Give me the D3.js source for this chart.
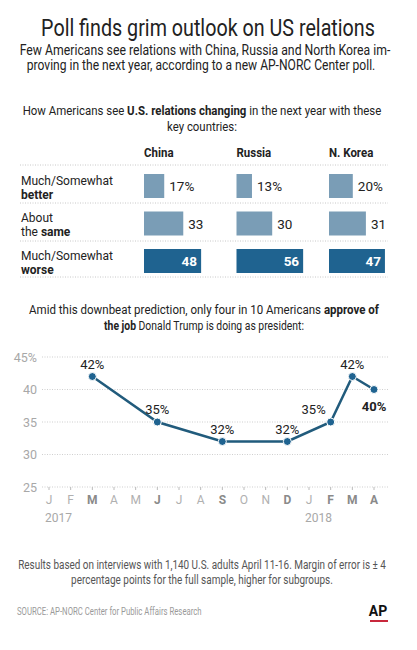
<!DOCTYPE html>
<html>
<head>
<meta charset="utf-8">
<script src="https://cdn.jsdelivr.net/npm/d3@7"></script>
<style>
  body { margin: 0; background: #fff; }
  svg { display: block; font-family: "Roboto", "Liberation Sans", sans-serif; }
</style>
</head>
<body>
<svg width="417" height="650"></svg>
<script>
// bar section data
const countries = ["China", "Russia", "N. Korea"];
const outlooks = ["better", "same", "worse"];
const chinaValues = [17, 33, 48];
const russiaValues = [13, 30, 56];
const nkoreaValues = [20, 31, 47];

// approval line data
const monthKeys = ["2017-01", "2017-02", "2017-03", "2017-04", "2017-05", "2017-06", "2017-07", "2017-08",
  "2017-09", "2017-10", "2017-11", "2017-12", "2018-01", "2018-02", "2018-03", "2018-04"];
const monthLabels = ["J", "F", "M", "A", "M", "J", "J", "A", "S", "O", "N", "D", "J", "F", "M", "A"];
const yearLabels = [["2017-01", "2017"], ["2018-01", "2018"]];
const approvalMonths = ["2017-03", "2017-06", "2017-09", "2017-12", "2018-02", "2018-03", "2018-04"];
const approvalValues = [42, 35, 32, 32, 35, 42, 40];
const yTicks = [25, 30, 35, 40, 45];

const svg = d3.select("svg");
const dark = "#1f6390", light = "#7a9db6", lineCol = "#215b7c";

// text line squeezed horizontally to a target width (fonts here are wider than the original condensed face)
function line(txt, x, y, size, opts = {}) {
  const g = svg.append("g");
  const t = g.append("text")
    .attr("font-size", size)
    .attr("fill", opts.fill || "#222")
    .attr("text-anchor", opts.anchor || "middle");
  if (opts.weight) t.attr("font-weight", opts.weight);
  if (Array.isArray(txt)) {
    txt.forEach(([s, b]) => t.append("tspan").attr("font-weight", b ? "bold" : null).text(s));
  } else t.text(txt);
  let s = 1;
  if (opts.len) s = opts.len / t.node().getComputedTextLength();
  g.attr("transform", `translate(${x},${y}) scale(${s},1)`);
  return t;
}

// Title block
line("Poll finds grim outlook on US relations", 208, 36, 24, { len: 334 });
line("Few Americans see relations with China, Russia and North Korea im-", 205, 55, 14, { len: 371 });
line("proving in the next year, according to a new AP-NORC Center poll.", 201, 70, 14, { len: 349 });

line([["How Americans see "], ["U.S. relations changing", true], [" in the next year with these"]], 202, 115, 13.5, { len: 359 });
line("key countries:", 202, 131, 13.5, { len: 70 });

// Bars
const colX = d3.scalePoint().domain(countries).range([144, 329]);
const rowY = d3.scalePoint().domain(outlooks).range([174, 249]);
const barW = d3.scaleLinear().domain([0, 100]).range([0, 119]);
const barH = 24;

const rows = [
  { key: "better", l1: [["Much/Somewhat"]], l2: [["better", true]] },
  { key: "same", l1: [["About"]], l2: [["the "], ["same", true]] },
  { key: "worse", l1: [["Much/Somewhat"]], l2: [["worse", true]] },
];

const gBars = svg.append("g");

// dotted separators
[165, 203, 241, 277].forEach((y) => {
  gBars.append("line")
    .attr("x1", 20).attr("x2", 388).attr("y1", y).attr("y2", y)
    .attr("stroke", "#c8c8c8").attr("stroke-width", 1).attr("stroke-dasharray", "1,1.5");
});

countries.forEach((c) => {
  gBars.append("text")
    .attr("transform", `translate(${colX(c)},157) scale(0.85,1)`)
    .attr("font-size", 13.5).attr("font-weight", "bold").attr("fill", "#222")
    .text(c);
});

rows.forEach((r) => {
  const y = rowY(r.key);
  const t1 = gBars.append("text").attr("x", 21).attr("y", y + 10.5).attr("font-size", 12).attr("fill", "#222");
  r.l1.forEach(([s, b]) => t1.append("tspan").attr("font-weight", b ? "bold" : null).text(s));
  const t2 = gBars.append("text").attr("x", 21).attr("y", y + 24.5).attr("font-size", 12).attr("fill", "#222");
  r.l2.forEach(([s, b]) => t2.append("tspan").attr("font-weight", b ? "bold" : null).text(s));
});

const barData = [];
[chinaValues, russiaValues, nkoreaValues].forEach((vals, ci) => {
  vals.forEach((v, ri) => barData.push({ country: countries[ci], outlook: outlooks[ri], value: v }));
});

gBars.selectAll("rect.bar")
  .data(barData)
  .enter()
  .append("rect")
  .attr("class", "bar")
  .attr("x", (d) => colX(d.country))
  .attr("y", (d) => rowY(d.outlook))
  .attr("width", (d) => barW(d.value))
  .attr("height", barH)
  .attr("fill", (d) => (d.outlook === "worse" ? dark : light));

gBars.selectAll("text.val")
  .data(barData)
  .enter()
  .append("text")
  .attr("class", "val")
  .attr("x", (d) => colX(d.country) + barW(d.value) + (d.outlook === "worse" ? -4 : 5))
  .attr("y", (d) => rowY(d.outlook) + barH / 2 + 5)
  .attr("text-anchor", (d) => (d.outlook === "worse" ? "end" : "start"))
  .attr("font-size", 13.5)
  .attr("font-weight", (d) => (d.outlook === "worse" ? "bold" : null))
  .attr("fill", (d) => (d.outlook === "worse" ? "#fff" : "#222"))
  .text((d) => d.value + (d.outlook === "better" ? "%" : ""));

// Line chart
line([["Amid this downbeat prediction, only four in 10 Americans "], ["approve of", true]], 204, 314, 13.5, { len: 350 });
line([["the job", true], [" Donald Trump is doing as president:"]], 204, 329.5, 13.5, { len: 200 });

const x = d3.scalePoint().domain(monthKeys).range([49, 374]);
const y = d3.scaleLinear().domain([25, 45]).range([487, 357]);

const gLine = svg.append("g");

yTicks.forEach((t) => {
  gLine.append("line")
    .attr("x1", 42).attr("x2", 388).attr("y1", y(t)).attr("y2", y(t))
    .attr("stroke", "#cfcfcf").attr("stroke-width", 1).attr("stroke-dasharray", "1,1.5");
  gLine.append("text")
    .attr("x", 37).attr("y", y(t) + 4.5)
    .attr("text-anchor", "end").attr("font-size", 12.5).attr("fill", "#a8a8a8")
    .text(t === 45 ? "45%" : t);
});

// month ticks + labels
monthKeys.forEach((k, i) => {
  const isData = approvalMonths.includes(k);
  gLine.append("line")
    .attr("x1", x(k)).attr("x2", x(k)).attr("y1", y(25)).attr("y2", y(25) + 3)
    .attr("stroke", "#bbb").attr("stroke-width", 1);
  gLine.append("text")
    .attr("x", x(k)).attr("y", 504)
    .attr("text-anchor", "middle").attr("font-size", 12)
    .attr("font-weight", isData ? "bold" : null)
    .attr("fill", isData ? "#8a8a8a" : "#b0b0b0")
    .text(monthLabels[i]);
});

yearLabels.forEach(([k, lbl]) => {
  gLine.append("text")
    .attr("x", x(k) - 4).attr("y", 522)
    .attr("font-size", 12).attr("fill", "#a8a8a8")
    .text(lbl);
});

const pts = approvalMonths.map((m, i) => ({ month: m, value: approvalValues[i], i }));

gLine.append("path")
  .datum(pts)
  .attr("fill", "none")
  .attr("stroke", lineCol)
  .attr("stroke-width", 2.5)
  .attr("d", d3.line().x((d) => x(d.month)).y((d) => y(d.value)));

gLine.selectAll("circle")
  .data(pts)
  .enter()
  .append("circle")
  .attr("cx", (d) => x(d.month))
  .attr("cy", (d) => y(d.value))
  .attr("r", 4)
  .attr("fill", dark)
  .attr("stroke", "#fff")
  .attr("stroke-width", 1);

// point labels: last one below in bold, a rising point to the left, others above
function placement(d) {
  const prev = pts[d.i - 1], next = pts[d.i + 1];
  if (!next) return "below";
  if (prev && prev.value < d.value && next.value > d.value) return "left";
  return "above";
}

gLine.selectAll("text.pt")
  .data(pts)
  .enter()
  .append("text")
  .attr("class", "pt")
  .attr("x", (d) => x(d.month) + (placement(d) === "left" ? -5 : 0))
  .attr("y", (d) => y(d.value) + (placement(d) === "below" ? 21 : -8))
  .attr("text-anchor", (d) => (placement(d) === "left" ? "end" : "middle"))
  .attr("font-size", 13)
  .attr("font-weight", (d) => (placement(d) === "below" ? "bold" : null))
  .attr("fill", "#222")
  .text((d) => d.value + "%");

// Footer
line("Results based on interviews with 1,140 U.S. adults April 11-16. Margin of error is ± 4", 202, 569, 12.5, { len: 368, fill: "#555" });
line("percentage points for the full sample, higher for subgroups.", 202, 584, 12.5, { len: 262, fill: "#555" });
line("SOURCE: AP-NORC Center for Public Affairs Research", 17, 615, 10.5, { anchor: "start", len: 185, fill: "#9a9a9a" });

svg.append("text").attr("x", 378).attr("y", 616)
  .attr("text-anchor", "middle").attr("font-size", 14).attr("font-weight", "bold").attr("fill", "#111")
  .text("AP");
svg.append("rect").attr("x", 370).attr("y", 620).attr("width", 18).attr("height", 2).attr("fill", "#c8283c");
</script>
</body>
</html>
